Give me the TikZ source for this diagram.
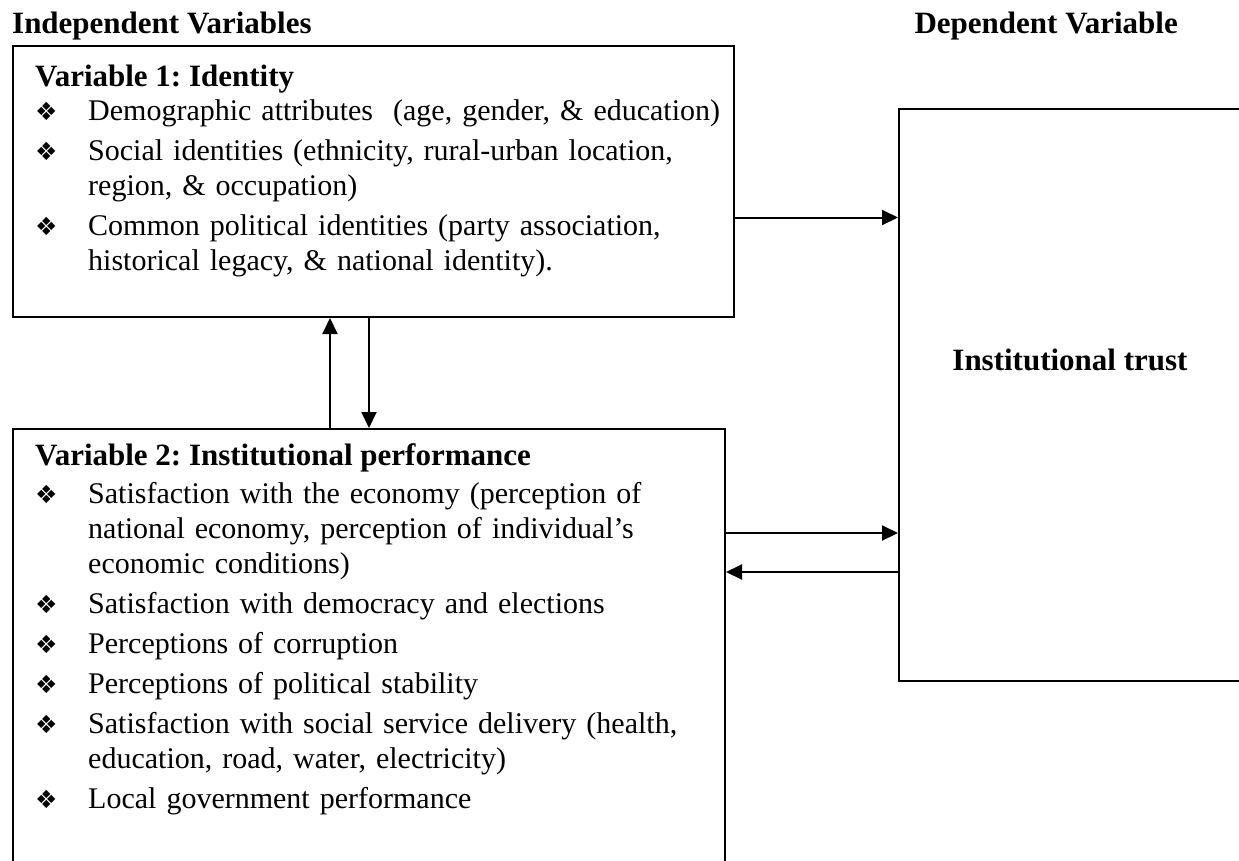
\documentclass[tikz,border=0pt]{standalone}
\usepackage{fontspec}
\setmainfont{Liberation Serif}
\newfontfamily\symfont{DejaVu Sans}
\usetikzlibrary{positioning,arrows.meta}
\frenchspacing
\newcommand{\bul}{{\symfont\fontsize{25}{25}\selectfont\char"2756}}
\newcommand{\itm}{\llap{\makebox[53pt][l]{\bul}}}

\begin{document}
\begin{tikzpicture}[x=1pt, y=-1pt,
  body/.style={font=\fontsize{30}{35}\selectfont, anchor=base west,
               inner sep=0pt, text width=640pt, align=left},
  head/.style={font=\bfseries\fontsize{31}{35}\selectfont,
               anchor=base west, inner sep=0pt},
  frame/.style={draw, line width=2pt, anchor=north west, inner sep=0pt},
  arr/.style={-{Triangle[length=16pt, width=15pt]}, line width=2pt},
]
\clip (0,0) rectangle (1239,860);
% headings
\node[head] (indep) at (12,33) {Independent Variables};
\node[head, anchor=base east] (dep) at (1178,33) {Dependent Variable};
% boxes
\node[frame, minimum width=721pt, minimum height=271pt] (ident) at (12,45) {};
\node[frame, minimum width=712pt, minimum height=460pt] (perf) at (12,428) {};
\node[frame, minimum width=344pt, minimum height=572pt] (trust) at (898,108) {};
% variable 1
\node[head] (v1title) at (35,86) {Variable 1: Identity};
\node[body] (v1a) at (88,120)
  {\itm Demographic attributes\ \ (age, gender, \& education)};
\node[body] (v1b) at (88,160)
  {\itm Social identities (ethnicity, rural-urban location,\\
   region, \& occupation)};
\node[body] (v1c) at (88,235)
  {\itm Common political identities (party association,\\
   historical legacy, \& national identity).};
% variable 2
\node[head] (v2title) at (35,465) {Variable 2: Institutional performance};
\node[body] (v2a) at (88,503)
  {\itm Satisfaction with the economy (perception of\\
   national economy, perception of individual's\\
   economic conditions)};
\node[body] (v2b) at (88,613) {\itm Satisfaction with democracy and elections};
\node[body] (v2c) at (88,653) {\itm Perceptions of corruption};
\node[body] (v2d) at (88,693) {\itm Perceptions of political stability};
\node[body] (v2e) at (88,733)
  {\itm Satisfaction with social service delivery (health,\\
   education, road, water, electricity)};
\node[body] (v2f) at (88,808) {\itm Local government performance};
% dependent
\node[head, anchor=base] (trustlbl) at (1070,370) {Institutional trust};
% links
\draw[arr] ([xshift=318pt]perf.north west) -- ([xshift=318pt]ident.south west);
\draw[arr] ([xshift=357pt]ident.south west) -- ([xshift=357pt]perf.north west);
\draw[arr] ([yshift=-36pt]ident.east) -- ([yshift=-36pt]ident.east -| trust.west);
\draw[arr] ([yshift=-105pt]perf.north east) -- ([yshift=-105pt]perf.north east -| trust.west);
\draw[arr] ([yshift=-144pt]perf.north east -| trust.west) -- ([yshift=-144pt]perf.north east);
\end{tikzpicture}
\end{document}
